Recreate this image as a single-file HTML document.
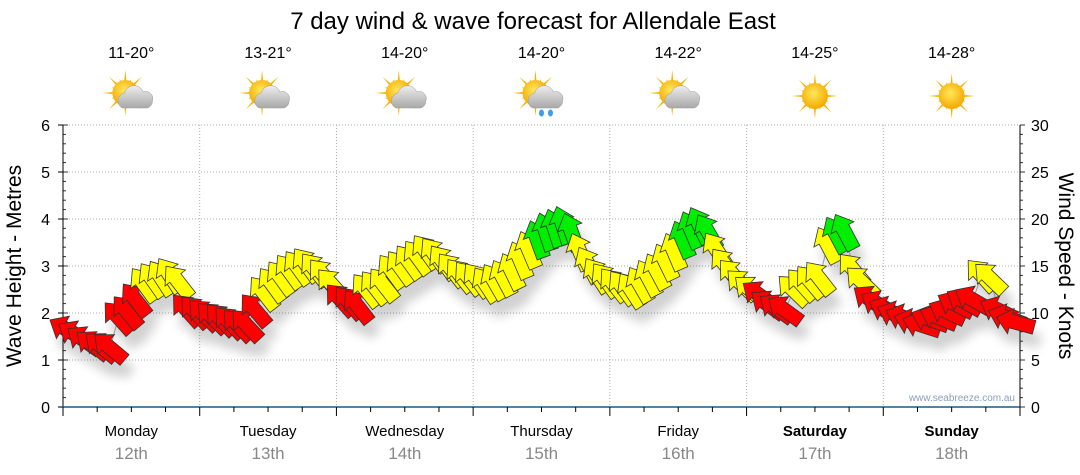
<!DOCTYPE html>
<html><head><meta charset="utf-8">
<style>
body{margin:0;background:#fff;}
svg{display:block;font-family:"Liberation Sans","DejaVu Sans",sans-serif;}
</style></head>
<body>
<svg id="chart" width="1080" height="475" viewBox="0 0 1080 475" xmlns="http://www.w3.org/2000/svg">
<defs>
<filter id="sh" x="-50%" y="-50%" width="200%" height="200%"><feGaussianBlur stdDeviation="5"/></filter>
<radialGradient id="sunG" cx="0.45" cy="0.4" r="0.6"><stop offset="0" stop-color="#ffe85a"/><stop offset="1" stop-color="#f5a800"/></radialGradient>
<linearGradient id="cloudG" x1="0" y1="0" x2="0" y2="1"><stop offset="0" stop-color="#eee"/><stop offset="1" stop-color="#a8a8a8"/></linearGradient>
</defs>
<text x="533" y="29" font-size="24" text-anchor="middle">7 day wind &amp; wave forecast for Allendale East</text>
<g id="grid"></g>
<g id="axes"></g>
<g id="icons"></g>
<g id="shadows" filter="url(#sh)" opacity="0.22"></g>
<polyline id="conn" fill="none" stroke="#999" stroke-width="1"/>
<g id="arrows"></g>
<text transform="translate(21,266) rotate(-90)" font-size="21" text-anchor="middle">Wave Height - Metres</text>
<text transform="translate(1059,266) rotate(90)" font-size="21" text-anchor="middle">Wind Speed - Knots</text>
<text x="1015" y="401" font-size="10" fill="#8aa0b8" text-anchor="end">www.seabreeze.com.au</text>
</svg>
<script>
const days=["Monday","Tuesday","Wednesday","Thursday","Friday","Saturday","Sunday"];
const dates=["12th","13th","14th","15th","16th","17th","18th"];
const temps=["11-20°","13-21°","14-20°","14-20°","14-22°","14-25°","14-28°"];
const weather=["partly","partly","partly","rain","partly","sunny","sunny"];
const waveTicks=[0,1,2,3,4,5,6];
const windTicks=[0,5,10,15,20,25,30];
const windSpeed=[
 8.2,7.7,7.1,6.6,6.4,6.3,9.5,10.1,11.4,13,13.5,13.7,14,13.3,10.3,10.1,
 9.8,9.5,9.3,9.0,8.7,8.7,10.3,12.1,13,13.7,14.4,14.8,15.1,14.6,14,13,
 11.4,11.1,10.7,12.4,12.7,13,14.4,14.8,15.4,15.9,16.5,16.2,15.4,14.6,14,13.7,
 13.5,13,13.3,13.7,14.4,15.6,16.7,17.8,18.6,19,19.3,18.6,16.5,15.1,14,13.5,
 13,12.7,12.4,13,13.7,14.4,15.4,16.5,17.8,18.8,19.3,18.6,16.7,15.1,14,13,
 12.4,11.9,10.9,10.5,10.3,12.4,13,13.3,13.7,17.2,18.3,18.6,14.6,13.3,11.4,10.9,
 10.3,9.8,9.5,9.0,8.7,9.3,9.5,10.1,10.9,11.2,11.4,14,13.7,10.3,9.5,9.0];
const windDir=[
 300,302,305,308,310,310,318,320,322,324,325,327,327,322,318,318,
 315,315,317,317,317,317,320,322,324,324,324,324,324,322,320,318,
 318,320,322,322,322,322,324,324,324,324,324,324,324,322,322,322,
 324,327,330,332,334,337,337,340,342,342,342,340,337,332,327,324,
 322,324,327,330,332,332,334,337,337,337,334,330,327,322,318,314,
 310,306,306,306,306,314,318,320,322,332,332,332,320,314,306,300,
 295,292,290,288,288,290,292,295,297,300,300,318,314,295,290,285];

const NS="http://www.w3.org/2000/svg";
const X0=63,X1=1020,Y0=407,Y1=125;
const dayW=(X1-X0)/7;
const N=windSpeed.length;
const yWave=v=>Y0-(v/6)*(Y0-Y1);
const yWind=v=>Y0-(v/30)*(Y0-Y1);
const xPt=i=>X0+(i+0.5)*(X1-X0)/N;
function mk(tag,attrs,parent){const e=document.createElementNS(NS,tag);for(const k in attrs)e.setAttribute(k,attrs[k]);parent.appendChild(e);return e;}
const grid=document.getElementById('grid'),axes=document.getElementById('axes'),icons=document.getElementById('icons');

waveTicks.forEach((v,i)=>{
 const y=yWave(v);
 if(v>0){const g=mk('line',{x1:X0,x2:X1,y1:y,y2:y,stroke:'#aaa','stroke-dasharray':'1,2'},grid);
 
 }
 const t=mk('text',{x:X0-13,y:y+6,'font-size':16,'text-anchor':'end',fill:'#000'},axes);t.textContent=v;
 
 
 mk('line',{x1:X0-5,x2:X0,y1:y,y2:y,stroke:'#000'},axes);
});
for(let k=0;k<=30;k++){const y=Y0-k/30*(Y0-Y1);mk('line',{x1:X0,x2:X0+(k%5?3:5),y1:y,y2:y,stroke:'#333'},axes);mk('line',{x1:X1,x2:X1+(k%5?3:5),y1:y,y2:y,stroke:'#333'},axes);}
windTicks.forEach(v=>{const t=mk('text',{x:X1+11,y:yWind(v)+6,'font-size':16,fill:'#000'},axes);t.textContent=v;
 
 });
mk('line',{x1:X0,x2:X0,y1:Y1,y2:Y0,stroke:'#000'},axes);
mk('line',{x1:X1,x2:X1,y1:Y1,y2:Y0,stroke:'#000'},axes);
mk('line',{x1:X0-5,x2:X1,y1:Y0,y2:Y0,stroke:'#1a5a86','stroke-width':1.5},axes);
for(let d=0;d<=7;d++){const x=X0+d*dayW;
 if(d>0&&d<7){const g=mk('line',{x1:x,x2:x,y1:Y1,y2:Y0,stroke:'#aaa','stroke-dasharray':'1,2'},grid);
 
 }
 mk('line',{x1:x,x2:x,y1:Y0,y2:Y0+9,stroke:'#000'},axes);
 if(d<7)for(let q=1;q<4;q++){const xx=x+q*dayW/4;mk('line',{x1:xx,x2:xx,y1:Y0,y2:Y0+5,stroke:'#000'},axes);}
}
days.forEach((d,i)=>{const cx=X0+(i+0.5)*dayW;
 const t=mk('text',{x:cx,y:436,'font-size':15,'text-anchor':'middle','font-weight':i>=5?'bold':'normal'},axes);t.textContent=d;
 
 
 const t2=mk('text',{x:cx,y:459,'font-size':17,'text-anchor':'middle',fill:'#888'},axes);t2.textContent=dates[i];
 
 
 const t3=mk('text',{x:cx,y:58,'font-size':16,'text-anchor':'middle'},icons);t3.textContent=temps[i];
 
 
 const g=mk('g',{transform:`translate(${cx},96)`},icons);
 
 
 const sx=weather[i]==='sunny'?0:-6, sy=weather[i]==='sunny'?0:-3;
 for(let r=0;r<16;r++){const a=r*Math.PI/8,L=r%2?15:23;mk('polygon',{points:`${sx+Math.cos(a-0.13)*10},${sy+Math.sin(a-0.13)*10} ${sx+Math.cos(a)*L},${sy+Math.sin(a)*L} ${sx+Math.cos(a+0.13)*10},${sy+Math.sin(a+0.13)*10}`,fill:'#f6b400'},g);}
 mk('circle',{cx:sx,cy:sy,r:13,fill:'url(#sunG)'},g);
 if(weather[i]!=='sunny'){
  mk('path',{d:'M-9,12 a8,8 0 0 1 2,-15 a10,10 0 0 1 19,-1 a7,7 0 0 1 9,9 a7,7 0 0 1 -5,7 z',fill:'url(#cloudG)',stroke:'#999','stroke-width':0.5},g);
 }
 if(weather[i]==='rain'){mk('ellipse',{cx:0,cy:17,rx:2.5,ry:3.5,fill:'#3aa0e8'},g);mk('ellipse',{cx:9,cy:17,rx:2.5,ry:3.5,fill:'#3aa0e8'},g);}
});

const arrowPts="0,-20 13,-5 7,-5 7,19 -7,19 -7,-5 -13,-5";
const arr=document.getElementById('arrows'),shd=document.getElementById('shadows');
const pts=[];
windSpeed.forEach((v,i)=>{
 const x=xPt(i),y=yWind(v);pts.push(x+','+y);
 mk('polygon',{points:arrowPts,fill:'#333',transform:`translate(${x+6},${y+14}) rotate(${windDir[i]})`},shd);
});
windSpeed.forEach((v,i)=>{
 const x=xPt(i),y=yWind(v);
 const col=v<12?'#ff0000':(v<17.6?'#ffff00':'#00ee00');
 const p=mk('polygon',{points:arrowPts,fill:col,stroke:'#333','stroke-width':0.8,transform:`translate(${x},${y}) rotate(${windDir[i]})`},arr);
 
 
});
document.getElementById('conn').setAttribute('points',pts.join(' '));
</script>
</body></html>
